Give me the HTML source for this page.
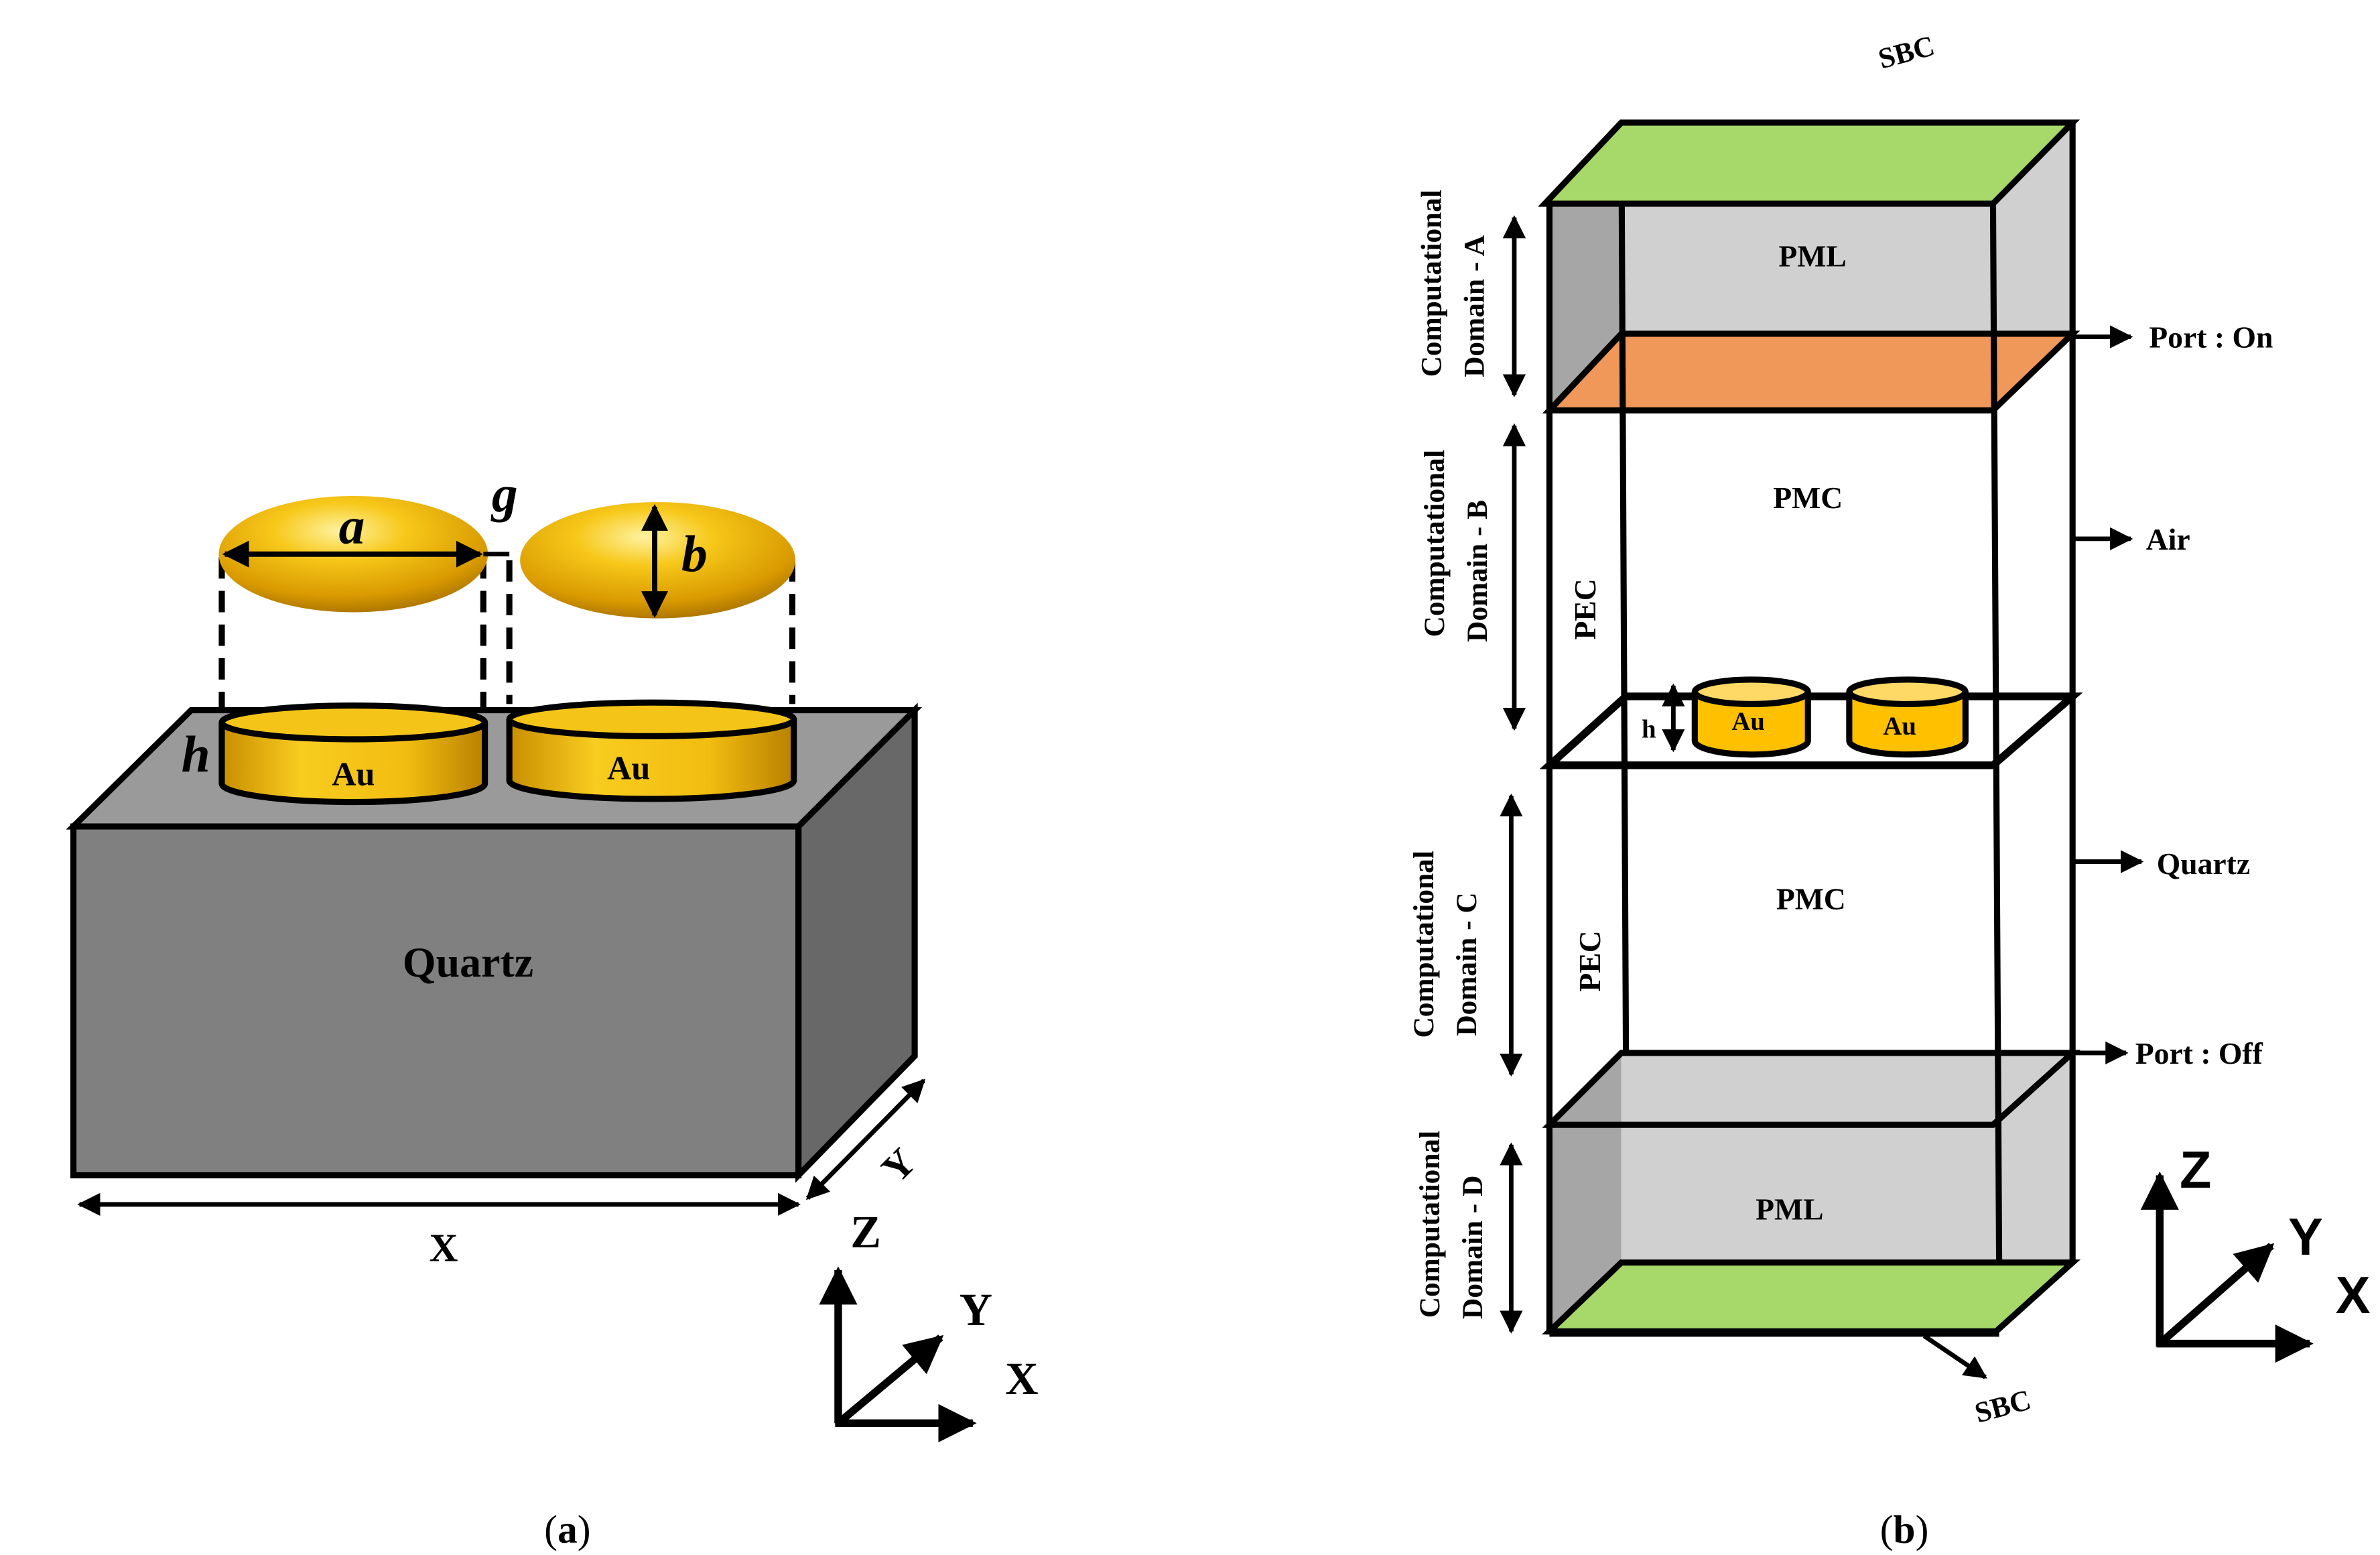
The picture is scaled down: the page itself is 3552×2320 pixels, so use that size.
<!DOCTYPE html>
<html><head><meta charset="utf-8"><style>html,body{margin:0;padding:0;background:#fff}svg{display:block}</style></head>
<body>
<svg width="3552" height="2320" viewBox="0 0 1556 1016" xmlns="http://www.w3.org/2000/svg" font-family="Liberation Serif, serif" font-weight="bold">
<defs>
<radialGradient id="gold" cx="45%" cy="30%" r="70%">
<stop offset="0" stop-color="#fff3a0"/><stop offset="0.35" stop-color="#f7c81a"/><stop offset="0.8" stop-color="#d99a00"/><stop offset="1" stop-color="#b07800"/></radialGradient>
<linearGradient id="cyl" x1="0" y1="0" x2="1" y2="0">
<stop offset="0" stop-color="#c88e00"/><stop offset="0.3" stop-color="#f8cc20"/><stop offset="0.7" stop-color="#f2bd10"/><stop offset="1" stop-color="#b98000"/></linearGradient>
<marker id="ah" viewBox="0 0 10 10" refX="9" refY="5" markerWidth="5" markerHeight="5" orient="auto-start-reverse"><path d="M0,0L10,5L0,10z" fill="#000"/></marker>
</defs>
<!-- Panel a -->
<polygon points="48,540 125,464 598,464 522,540" fill="#9a9a9a" stroke="#000" stroke-width="4"/>
<polygon points="522,540 598,464 598,690 522,768" fill="#686868" stroke="#000" stroke-width="4"/>
<rect x="48" y="540" width="474" height="228" fill="#808080" stroke="#000" stroke-width="4"/>
<text x="306" y="638" font-size="28" text-anchor="middle">Quartz</text>
<line x1="52" y1="787" x2="522" y2="787" stroke="#000" stroke-width="3" marker-start="url(#ah)" marker-end="url(#ah)"/>
<text x="290" y="824" font-size="26" text-anchor="middle">X</text>
<line x1="528" y1="783" x2="604" y2="706" stroke="#000" stroke-width="3" marker-start="url(#ah)" marker-end="url(#ah)"/>
<text x="588" y="770" font-size="26" text-anchor="middle" transform="rotate(-45 588 762)">Y</text>
<!-- cylinders -->
<g stroke="#000" stroke-width="4">
<path d="M145,472 L145,512 A86,12 0 0 0 317,512 L317,472" fill="url(#cyl)"/>
<ellipse cx="231" cy="472" rx="86" ry="11" fill="#f5c418"/>
<path d="M333,470 L333,510 A93,12 0 0 0 519,510 L519,470" fill="url(#cyl)"/>
<ellipse cx="426" cy="470" rx="93" ry="11" fill="#f5c418"/>
</g>
<text x="231" y="513" font-size="22" text-anchor="middle">Au</text>
<text x="411" y="509" font-size="22" text-anchor="middle">Au</text>
<text x="128" y="504" font-size="34" font-style="italic" text-anchor="middle">h</text>
<!-- dashed -->
<g stroke="#000" stroke-width="4" stroke-dasharray="14,8">
<line x1="145" y1="364" x2="145" y2="462"/><line x1="316" y1="364" x2="316" y2="462"/>
<line x1="333" y1="366" x2="333" y2="460"/><line x1="518" y1="366" x2="518" y2="460"/>
</g>
<ellipse cx="231" cy="362" rx="88" ry="38" fill="url(#gold)"/>
<ellipse cx="430" cy="366" rx="90" ry="38" fill="url(#gold)"/>
<line x1="147" y1="362" x2="314" y2="362" stroke="#000" stroke-width="3.5" marker-start="url(#ah)" marker-end="url(#ah)"/>
<line x1="316" y1="362" x2="333" y2="362" stroke="#000" stroke-width="3"/>
<line x1="428" y1="331" x2="428" y2="402" stroke="#000" stroke-width="3.5" marker-start="url(#ah)" marker-end="url(#ah)"/>
<text x="230" y="355" font-size="34" font-style="italic" text-anchor="middle">a</text>
<text x="330" y="334" font-size="34" font-style="italic" text-anchor="middle">g</text>
<text x="454" y="373" font-size="34" font-style="italic" text-anchor="middle">b</text>
<!-- axes a -->
<g stroke="#000" stroke-width="5">
<line x1="548" y1="930" x2="548" y2="830" marker-end="url(#ah)"/>
<line x1="546" y1="930" x2="636" y2="930" marker-end="url(#ah)"/>
<line x1="548" y1="930" x2="615" y2="874" marker-end="url(#ah)"/>
</g>
<text x="566" y="815" font-size="30" text-anchor="middle">Z</text>
<text x="638" y="866" font-size="30" text-anchor="middle">Y</text>
<text x="668" y="911" font-size="30" text-anchor="middle">X</text>
<text x="371" y="1008" font-size="26" font-weight="normal" text-anchor="middle">(<tspan font-weight="bold">a</tspan>)</text>

<!-- Panel b -->
<!-- gray PML top -->
<polygon points="1013,133 1060,80 1060,218 1013,268" fill="#a6a6a6"/>
<polygon points="1060,80 1355,80 1355,218 1060,218" fill="#d0d0d0"/>
<polygon points="1060,133 1303,133 1303,218 1060,218" fill="#d0d0d0"/>
<!-- gray PML bottom -->
<polygon points="1013,735 1060,688 1060,825 1013,870" fill="#a6a6a6"/>
<polygon points="1060,688 1355,688 1355,825 1060,825" fill="#d0d0d0"/>
<polygon points="1013,268 1060,218 1355,218 1303,268" fill="#f0975a" stroke="#000" stroke-width="4"/>
<g stroke="#000" fill="none" stroke-width="4">
<line x1="1013" y1="133" x2="1013" y2="872"/>
<line x1="1060" y1="80" x2="1063" y2="688"/>
<line x1="1355" y1="80" x2="1355" y2="825"/>
<line x1="1303" y1="133" x2="1307" y2="825"/>
<polygon points="1013,500 1063,455 1355,455 1303,500" stroke-width="5"/>
<polygon points="1013,735 1060,688 1355,688 1303,735"/>
</g>
<polygon points="1010,133 1060,80 1355,80 1303,133" fill="#a6d96a" stroke="#000" stroke-width="4"/>
<polygon points="1013,870 1060,825 1355,825 1305,870" fill="#a6d96a" stroke="#000" stroke-width="4"/>
<line x1="1013" y1="871" x2="1307" y2="871" stroke="#000" stroke-width="5"/>
<!-- Au cylinders b -->
<g stroke="#000" stroke-width="4">
<path d="M1108,452 L1108,484 A37,9 0 0 0 1182,484 L1182,452" fill="#ffc000"/>
<ellipse cx="1145" cy="452" rx="37" ry="8" fill="#ffd966"/>
<path d="M1209,452 L1209,484 A38,9 0 0 0 1285,484 L1285,452" fill="#ffc000"/>
<ellipse cx="1247" cy="452" rx="38" ry="8" fill="#ffd966"/>
</g>
<text x="1143" y="477" font-size="17" text-anchor="middle">Au</text>
<text x="1242" y="480" font-size="17" text-anchor="middle">Au</text>
<line x1="1094" y1="448" x2="1094" y2="490" stroke="#000" stroke-width="3" marker-start="url(#ah)" marker-end="url(#ah)"/>
<text x="1078" y="482" font-size="17" text-anchor="middle">h</text>
<text x="1185" y="174" font-size="20" text-anchor="middle">PML</text>
<text x="1182" y="332" font-size="20" text-anchor="middle">PMC</text>
<text x="1184" y="594" font-size="20" text-anchor="middle">PMC</text>
<text x="1170" y="797" font-size="20" text-anchor="middle">PML</text>
<text font-size="20" text-anchor="middle" transform="translate(1043,398) rotate(-90)">PEC</text>
<text font-size="20" text-anchor="middle" transform="translate(1046,628) rotate(-90)">PEC</text>
<!-- left domain arrows -->
<g stroke="#000" stroke-width="3">
<line x1="990" y1="142" x2="990" y2="258" marker-start="url(#ah)" marker-end="url(#ah)"/>
<line x1="990" y1="278" x2="990" y2="476" marker-start="url(#ah)" marker-end="url(#ah)"/>
<line x1="988" y1="520" x2="988" y2="702" marker-start="url(#ah)" marker-end="url(#ah)"/>
<line x1="988" y1="748" x2="988" y2="870" marker-start="url(#ah)" marker-end="url(#ah)"/>
</g>
<g font-size="19" text-anchor="middle">
<text transform="translate(942,185) rotate(-90)">Computational</text>
<text transform="translate(970,200) rotate(-90)">Domain - A</text>
<text transform="translate(944,355) rotate(-90)">Computational</text>
<text transform="translate(972,373) rotate(-90)">Domain - B</text>
<text transform="translate(937,617) rotate(-90)">Computational</text>
<text transform="translate(965,630) rotate(-90)">Domain - C</text>
<text transform="translate(941,800) rotate(-90)">Computational</text>
<text transform="translate(969,815) rotate(-90)">Domain - D</text>
</g>
<!-- right labels -->
<g stroke="#000" stroke-width="3">
<line x1="1355" y1="220" x2="1393" y2="220" marker-end="url(#ah)"/>
<line x1="1355" y1="352" x2="1393" y2="352" marker-end="url(#ah)"/>
<line x1="1355" y1="563" x2="1400" y2="563" marker-end="url(#ah)"/>
<line x1="1355" y1="688" x2="1390" y2="688" marker-end="url(#ah)"/>
<line x1="1258" y1="873" x2="1298" y2="900" marker-end="url(#ah)"/>
</g>
<g font-size="20">
<text x="1405" y="227">Port : On</text>
<text x="1403" y="359">Air</text>
<text x="1410" y="571">Quartz</text>
<text x="1396" y="695">Port : Off</text>
</g>
<text font-size="19" text-anchor="middle" transform="translate(1248,40) rotate(-15)">SBC</text>
<text font-size="19" text-anchor="middle" transform="translate(1311,925) rotate(-15)">SBC</text>
<!-- axes b -->
<g stroke="#000" stroke-width="5">
<line x1="1412" y1="880" x2="1412" y2="768" marker-end="url(#ah)"/>
<line x1="1410" y1="878" x2="1510" y2="878" marker-end="url(#ah)"/>
<line x1="1412" y1="878" x2="1485" y2="814" marker-end="url(#ah)"/>
</g>
<g font-family="Liberation Sans, sans-serif" font-size="34">
<text x="1425" y="776">Z</text>
<text x="1496" y="820">Y</text>
<text x="1527" y="858">X</text>
</g>
<text x="1245" y="1008" font-size="26" font-weight="normal" text-anchor="middle">(<tspan font-weight="bold">b</tspan>)</text>
</svg>
</body></html>
